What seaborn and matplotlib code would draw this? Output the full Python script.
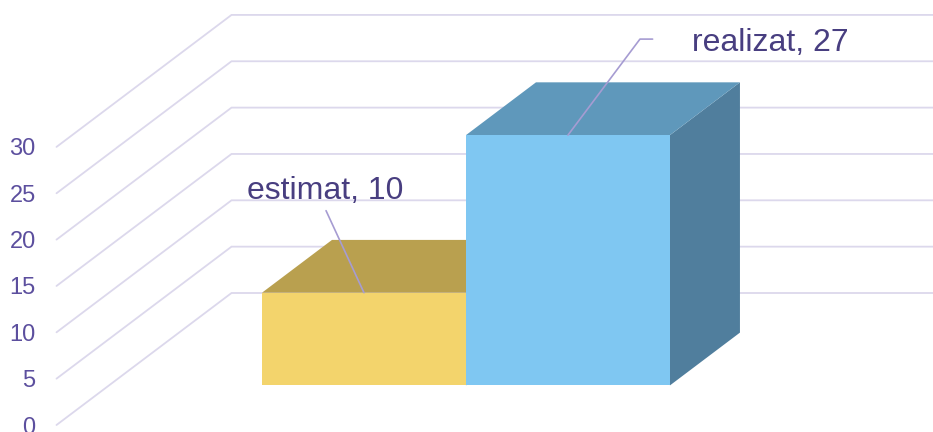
import matplotlib

matplotlib.use("Agg")

import matplotlib.pyplot as plt
from matplotlib.patches import Polygon
import seaborn as sns

CATEGORIES = ["estimat", "realizat"]
VALUES = [10, 27]
Y_TICKS = [0, 5, 10, 15, 20, 25, 30]

FRONT_COLORS = ["#F3D46C", "#7FC7F2"]
TOP_COLORS = ["#B9A04F", "#5F98BB"]
SIDE_COLORS = ["#A18B40", "#507E9D"]
GRID_COLOR = "#DCD8EC"
TICK_COLOR = "#5C4F9E"
LABEL_COLOR = "#483E80"
LEADER_COLOR = "#A69CD2"

# oblique projection of the 3d box (depth 0 = front, 1 = back wall)
DEPTH_DX = 0.858
DEPTH_DY = 14.24
BAR_FRONT, BAR_BACK = 0.3, 0.7
X_FLOOR = (-1.25, 2.25)
XLIM = (-1.527, 3.047)
YLIM = (-0.755, 45.85)


def proj(x, y, d):
    return x + d * DEPTH_DX, y + d * DEPTH_DY


sns.set_theme(style="white")
plt.rcParams["font.family"] = ["Liberation Sans", "DejaVu Sans"]

fig = plt.figure(figsize=(9.33, 4.32), dpi=100)
ax = fig.add_axes([0, 0, 1, 1])
ax.set_xlim(*XLIM)
ax.set_ylim(*YLIM)
ax.axis("off")

# back wall + floor grid
for t in Y_TICKS:
    pts = [proj(X_FLOOR[0], t, 0), proj(X_FLOOR[0], t, 1), proj(X_FLOOR[1], t, 1)]
    ax.plot([p[0] for p in pts], [p[1] for p in pts], color=GRID_COLOR,
            lw=1.3, zorder=1, solid_joinstyle="miter")
    x0, y0 = proj(X_FLOOR[0], t, 0)
    ax.annotate(str(t), (x0, y0), xytext=(-15, 0), textcoords="offset points",
                ha="right", va="center_baseline", fontsize=17, color=TICK_COLOR)

# top and side faces of the bars
for i, v in enumerate(VALUES):
    top = [proj(i - 0.5, v, BAR_FRONT), proj(i + 0.5, v, BAR_FRONT),
           proj(i + 0.5, v, BAR_BACK), proj(i - 0.5, v, BAR_BACK)]
    side = [proj(i + 0.5, 0, BAR_FRONT), proj(i + 0.5, v, BAR_FRONT),
            proj(i + 0.5, v, BAR_BACK), proj(i + 0.5, 0, BAR_BACK)]
    ax.add_patch(Polygon(side, closed=True, facecolor=SIDE_COLORS[i],
                         edgecolor="none", zorder=2 + i))
    ax.add_patch(Polygon(top, closed=True, facecolor=TOP_COLORS[i],
                         edgecolor="none", zorder=2 + i))

# front faces drawn by seaborn on an overlay axis shifted to the bar front plane
ax_front = fig.add_axes([0, 0, 1, 1])
ax_front.patch.set_alpha(0)
sns.barplot(x=CATEGORIES, y=VALUES, hue=CATEGORIES, palette=FRONT_COLORS,
            width=1.0, saturation=1, legend=False, linewidth=0,
            edgecolor="none", ax=ax_front)
sx, sy = proj(0, 0, BAR_FRONT)
ax_front.set_xlim(XLIM[0] - sx, XLIM[1] - sx)
ax_front.set_ylim(YLIM[0] - sy, YLIM[1] - sy)
ax_front.axis("off")

# data labels with leader lines
label_pos = [(-0.19, 20.14), (1.608, 36.06)]
leaders = [
    [(-0.186, 18.85)],
    [(1.353, 37.36), (1.415, 37.36)],
]
for i, (cat, v) in enumerate(zip(CATEGORIES, VALUES)):
    path = [(i, v)] + leaders[i]
    ax_front.plot([p[0] for p in path], [p[1] for p in path],
                  color=LEADER_COLOR, lw=1.2)
    ha = "center" if i == 0 else "left"
    ax_front.text(label_pos[i][0], label_pos[i][1], f"{cat}, {v}", ha=ha,
                  va="baseline", fontsize=23, color=LABEL_COLOR)

fig.savefig("out.png", dpi=100)
